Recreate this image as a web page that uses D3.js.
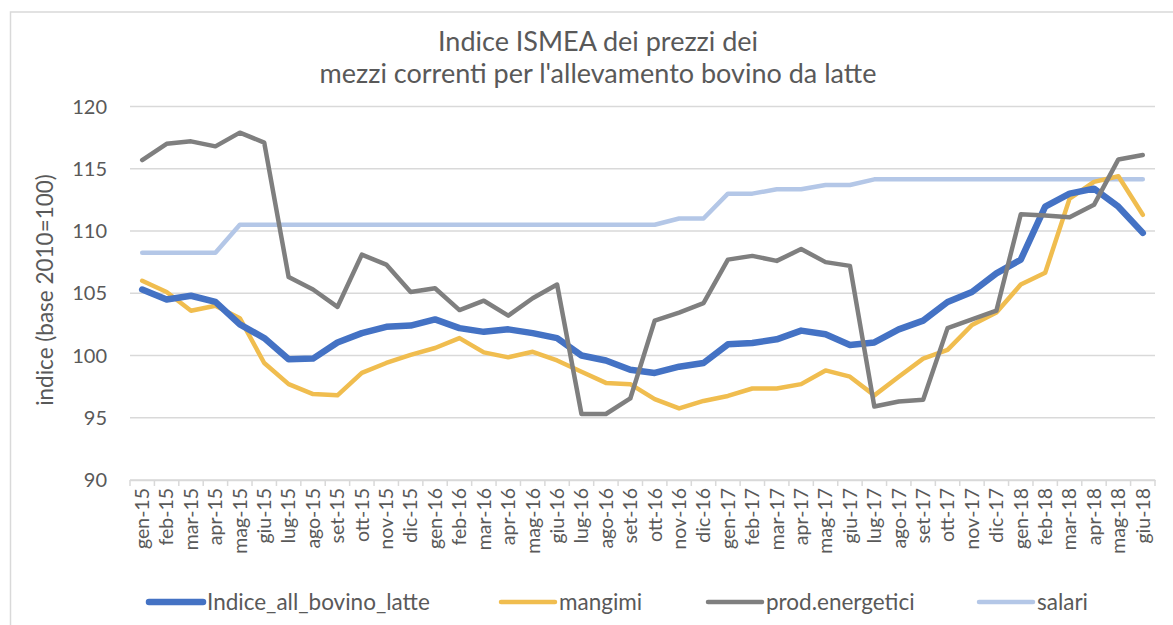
<!DOCTYPE html>
<html>
<head>
<meta charset="utf-8">
<script src="https://cdn.jsdelivr.net/npm/d3@7"></script>
<style>
  body { margin: 0; background: #fff; }
  text { font-family: Lato, "Open Sans", sans-serif; fill: #595959; }
</style>
</head>
<body>
<div id="chart"></div>
<script>
const width = 1173
const height = 625

const mesi = ["gen-15","feb-15","mar-15","apr-15","mag-15","giu-15","lug-15","ago-15","set-15","ott-15","nov-15","dic-15",
  "gen-16","feb-16","mar-16","apr-16","mag-16","giu-16","lug-16","ago-16","set-16","ott-16","nov-16","dic-16",
  "gen-17","feb-17","mar-17","apr-17","mag-17","giu-17","lug-17","ago-17","set-17","ott-17","nov-17","dic-17",
  "gen-18","feb-18","mar-18","apr-18","mag-18","giu-18"]

const indice = [105.3,104.5,104.8,104.3,102.5,101.4,99.7,99.75,101.05,101.8,102.3,102.4,
  102.9,102.2,101.9,102.1,101.8,101.4,100.0,99.6,98.85,98.6,99.1,99.4,
  100.9,101.0,101.3,102.0,101.7,100.85,101.05,102.1,102.8,104.3,105.1,106.6,
  107.7,111.95,113.0,113.4,111.95,109.85]

const mangimi = [106.0,105.1,103.6,104.0,103.0,99.4,97.7,96.9,96.8,98.6,99.4,100.05,
  100.6,101.4,100.25,99.85,100.3,99.6,98.7,97.8,97.7,96.5,95.75,96.35,
  96.75,97.35,97.35,97.7,98.8,98.3,96.8,98.3,99.75,100.45,102.45,103.45,
  105.7,106.65,112.6,113.95,114.4,111.3]

const energetici = [115.7,117.0,117.2,116.8,117.9,117.1,106.3,105.3,103.9,108.1,107.3,105.1,
  105.4,103.65,104.4,103.2,104.6,105.7,95.3,95.3,96.55,102.8,103.45,104.2,
  107.7,108.0,107.6,108.55,107.5,107.2,95.9,96.3,96.45,102.2,102.9,103.6,
  111.35,111.25,111.1,112.1,115.75,116.1]

const salari = [108.25,108.25,108.25,108.25,110.5,110.5,110.5,110.5,110.5,110.5,110.5,110.5,
  110.5,110.5,110.5,110.5,110.5,110.5,110.5,110.5,110.5,110.5,111.0,111.0,
  113.0,113.0,113.35,113.35,113.7,113.7,114.15,114.15,114.15,114.15,114.15,114.15,
  114.15,114.15,114.15,114.15,114.15,114.15]

const yTicks = [90, 95, 100, 105, 110, 115, 120]

const serie = [
  {nome: "Indice_all_bovino_latte", valori: indice, colore: "#4472C4", spessore: 6.5},
  {nome: "mangimi", valori: mangimi, colore: "#F0BD4F", spessore: 4.5},
  {nome: "prod.energetici", valori: energetici, colore: "#7F7F7F", spessore: 4.5},
  {nome: "salari", valori: salari, colore: "#B4C7E7", spessore: 4.5}
]

const svg = d3.select("#chart").append("svg")
  .attr("width", width)
  .attr("height", height)

// bordo del grafico
svg.append("rect")
  .attr("x", 10.5).attr("y", 12)
  .attr("width", width + 10).attr("height", height + 10)
  .attr("fill", "white")
  .attr("stroke", "#D9D9D9")
  .attr("stroke-width", 1.5)

const x = d3.scaleBand()
  .domain(mesi)
  .range([130, 1155])

const y = d3.scaleLinear()
  .domain([90, 120])
  .range([480, 106.5])

// griglia
svg.append("g")
  .selectAll("line")
  .data(yTicks)
  .join("line")
  .attr("x1", 130).attr("x2", 1155)
  .attr("y1", d => y(d)).attr("y2", d => y(d))
  .attr("stroke", "#D9D9D9")
  .attr("stroke-width", 1.5)

// asse y
svg.append("g")
  .selectAll("text")
  .data(yTicks)
  .join("text")
  .attr("x", 107)
  .attr("y", d => y(d))
  .attr("dy", "0.35em")
  .attr("text-anchor", "end")
  .style("font-size", "20px")
  .text(d => d)

// asse x
const xAxis = svg.append("g")
  .attr("transform", `translate(0,${y(90)})`)
  .call(d3.axisBottom(x).tickSize(0).tickSizeOuter(0))
xAxis.select(".domain").attr("stroke", "#D9D9D9").attr("stroke-width", 1.5)
xAxis.selectAll(".tick text")
  .attr("transform", "rotate(-90)")
  .attr("x", -8)
  .attr("y", 0)
  .attr("dy", "0.35em")
  .attr("text-anchor", "end")
  .style("font-size", "19.5px")
  .style("font-family", "Lato, sans-serif")
  .attr("fill", "#595959")
xAxis.selectAll(".tick line").remove()

const bordi = d3.range(mesi.length + 1).map(i => 130 + i * x.bandwidth())
xAxis.selectAll(".sep")
  .data(bordi)
  .join("line")
  .attr("class", "sep")
  .attr("x1", d => d).attr("x2", d => d)
  .attr("y1", 0).attr("y2", 6)
  .attr("stroke", "#D9D9D9")
  .attr("stroke-width", 1.5)

// linee
const linea = d3.line()
  .x((d, i) => x(mesi[i]) + x.bandwidth() / 2)
  .y(d => y(d))

const ordine = [serie[3], serie[1], serie[0], serie[2]]
svg.append("g")
  .selectAll("path")
  .data(ordine)
  .join("path")
  .attr("d", d => linea(d.valori))
  .attr("fill", "none")
  .attr("stroke", d => d.colore)
  .attr("stroke-width", d => d.spessore)
  .attr("stroke-linejoin", "round")
  .attr("stroke-linecap", "round")

// titolo
svg.append("text")
  .attr("x", 598).attr("y", 51)
  .attr("text-anchor", "middle")
  .style("font-size", "27px")
  .text("Indice ISMEA dei prezzi dei")
svg.append("text")
  .attr("x", 598).attr("y", 83)
  .attr("text-anchor", "middle")
  .style("font-size", "27px")
  .text("mezzi correnti per l'allevamento bovino da latte")

// titolo asse y
svg.append("text")
  .attr("transform", "translate(45,290) rotate(-90)")
  .attr("dy", "0.35em")
  .attr("text-anchor", "middle")
  .style("font-size", "22.5px")
  .text("indice (base 2010=100)")

// legenda
const legX = [149, 501, 708, 979]
const leg = svg.append("g")
  .selectAll("g")
  .data(serie)
  .join("g")
  .attr("transform", (d, i) => `translate(${legX[i]},602)`)
leg.append("line")
  .attr("x1", 0).attr("x2", 54)
  .attr("stroke", d => d.colore)
  .attr("stroke-width", d => d.spessore)
  .attr("stroke-linecap", "round")
leg.append("text")
  .attr("x", 58)
  .attr("dy", "0.35em")
  .style("font-size", "22.5px")
  .text(d => d.nome)
</script>
</body>
</html>
